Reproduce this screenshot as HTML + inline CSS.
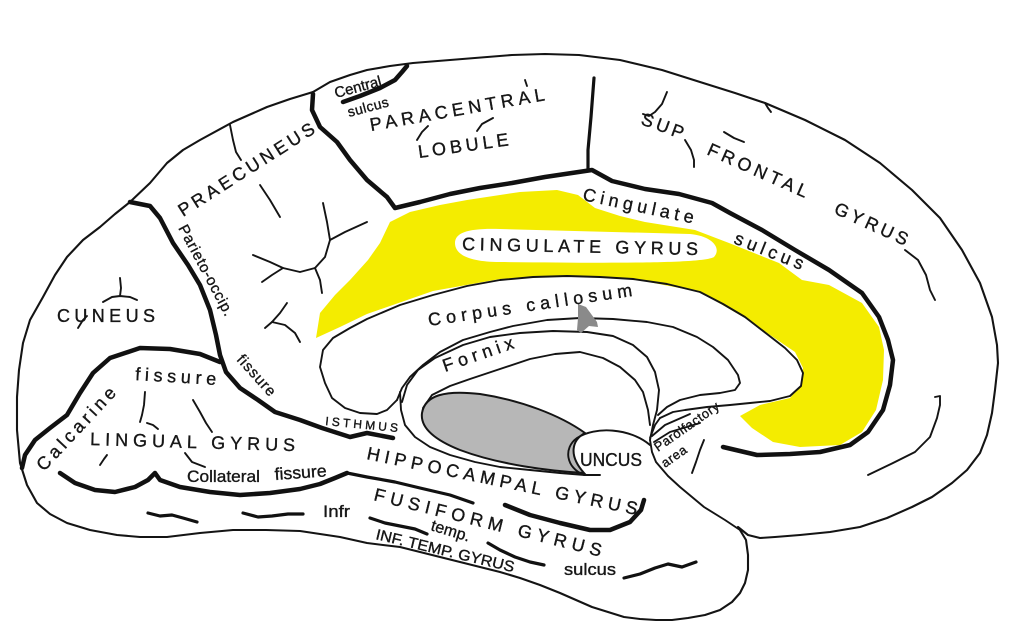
<!DOCTYPE html>
<html><head><meta charset="utf-8"><style>
html,body{margin:0;padding:0;background:#fff;}
svg{display:block;}
text{font-family:"Liberation Sans",Arial,sans-serif;fill:#161616;stroke:#161616;stroke-width:0.35;}
.o{fill:none;stroke:#141414;stroke-width:2.1;stroke-linecap:round;stroke-linejoin:round;}
.t{fill:none;stroke:#141414;stroke-width:1.9;stroke-linecap:round;stroke-linejoin:round;}
.k{fill:none;stroke:#111;stroke-width:4.5;stroke-linecap:round;stroke-linejoin:round;}
.m{fill:none;stroke:#111;stroke-width:3.2;stroke-linecap:round;stroke-linejoin:round;}
</style></head><body>
<svg width="1024" height="627" viewBox="0 0 1024 627" xmlns="http://www.w3.org/2000/svg">
<rect width="1024" height="627" fill="#fff"/>

<!-- Yellow cingulate gyrus -->
<path fill="#f4ec00" d="M316,338 L320,313 L335,295 L350,280 L368,260 L380,243 L390,222 L410,212 L440,205 L467,200 L520,192 L557,190 L578,195 L595,208 L620,216 L645,222 L695,230 L729,243 L779,263 L802,280 L829,285 L862,303 L879,327 L884,350 L883,380 L876,410 L862,432 L840,445 L800,447 L773,442 L752,428 L740,416 L760,405 L790,398 L801,385 L803,368 L795,352 L770,335 L745,318 L700,292 L633,279 L567,276 L500,279 L433,291 L367,314 L340,327 Z"/>
<path fill="#fff" d="M455,243 C455,232 470,228 500,229 L690,234 C712,236 722,248 714,257 C703,264 600,263 500,262 C470,262 455,255 455,243 Z"/>

<!-- Outer outline -->
<path class="o" d="M313,92 L330,82 L350,75 L367,70 L390,66 L413,63 L450,60 L512,55 L545,54 L579,55 L620,60 L662,70 L700,82 L735,93 L765,103 L805,120 L845,140 L880,163 L912,190 L940,218 L962,250 L980,283 L992,317 L997,345 L998,363 L995,390 L992,413 L987,435 L980,453 L967,470 L952,483 L932,497 L912,507 L887,518 L860,527 L830,532 L800,535 L775,537 L760,538 L748,535 L738,527"/>
<path class="o" d="M740,530 L746,540 L748,555 L748,570 L745,583 L740,593 L732,602 L720,610 L705,615 L688,618 L672,620 L656,620 L640,619 L624,617 L608,612 L592,607 L576,600 L560,593 L540,585 L520,578 L500,572 L480,567 L460,562 L440,557 L420,552 L400,547 L383,545 L367,543 L340,537 L300,531 L266,530 L233,530 L200,533 L167,537 L140,537 L117,535 L90,530 L67,523 L50,514 L37,503 L27,485 L20,463 L17,430 L17,397 L19,370 L23,343 L30,320 L43,297 L55,275 L67,257 L83,240 L100,227 L115,214 L130,202 L150,183 L167,163 L183,150 L200,140 L233,122 L267,107 L290,99 L313,92"/>

<!-- Thick sulci -->
<path class="k" d="M343,102 L360,96 L380,88 L395,80 L402,72 L407,66"/>
<path class="k" d="M313,94 L312,110 L320,127 L337,142 L350,160 L367,180 L387,197 L395,208 L420,202 L450,194 L480,188 L512,183 L545,177 L592,170 L612,181 L645,189 L679,194 L712,203 L730,213 L762,230 L795,250 L829,270 L862,293 L879,317 L888,340 L893,360 L890,385 L883,410 L868,432 L850,445 L820,452 L790,454 L757,455 L723,447"/>
<path class="m" d="M594,78 L591,117 L588,150 L588,170"/>
<path class="k" d="M130,202 L150,206 L160,218 L173,243 L188,265 L200,285 L210,310 L216,335 L220,355 L226,372 L240,388 L258,400 L275,412 L300,420 L322,428 L350,437 L367,433 L393,438"/>
<path class="k" d="M220,362 L200,354 L170,349 L140,348 L110,358 L93,373 L80,393 L67,415 L50,428 L35,440 L25,455 L22,468"/>
<path class="k" d="M60,473 L75,483 L95,490 L115,492 L135,487 L148,480 L155,473 L160,480 L180,487 L210,492 L240,495 L270,493 L300,489 L320,484 L335,478 L347,473"/>
<path class="m" d="M347,473 L367,477 L395,482 L420,488 L450,495 L473,503"/>
<path class="k" d="M505,505 L530,515 L560,523 L590,530 L610,530 L630,522 L641,510 L644,500"/>

<!-- Wavy sulci -->
<path class="m" d="M148,513 L160,516 L172,515 L183,518 L197,522"/>
<path class="m" d="M243,513 L258,517 L272,516 L288,514 L303,514"/>
<path class="m" d="M370,518 L385,523 L400,526 L415,529 L427,534"/>
<path class="m" d="M488,543 L500,550 L515,557 L530,562 L544,565"/>
<path class="m" d="M624,578 L640,574 L655,568 L668,564 L682,567 L696,562"/>

<!-- Corpus callosum / fornix -->
<path class="t" d="M397,400 L387,410 L377,414 L360,413 L345,408 L332,398 L325,383 L320,367 L323,350 L333,338 L350,328 L367,319 L400,305 L433,295 L467,286 L500,280 L533,277 L567,276 L600,277 L633,279 L667,284 L700,292 L723,304 L745,317 L767,334 L785,348 L797,360 L803,373 L801,386 L790,396 L770,401 L750,403 L730,405 L707,407 L685,410 L673,412 L660,418"/>
<path class="t" d="M397,400 L402,388 L410,377 L423,365 L440,352 L463,340 L490,332 L513,326 L547,320 L580,318 L613,319 L647,322 L673,327 L697,337 L713,347 L728,360 L738,375 L740,383 L735,390 L720,393 L700,395 L680,400 L667,407 L658,415"/>
<path class="t" d="M402,402 L407,385 L418,370 L435,358 L463,345 L490,337 L520,333 L553,331 L587,332 L613,336 L633,345 L647,357 L655,372 L659,390 L657,410 L653,425 L650,440"/>
<path class="t" d="M423,408 L432,395 L450,386 L470,379 L500,369 L530,359 L555,354 L580,352 L603,358 L620,367 L635,380 L643,392 L648,410 L650,425"/>
<path class="t" d="M400,392 L401,410 L405,425 L415,437 L430,447 L450,455 L475,462 L500,467 L530,470 L560,473 L585,475 L600,475"/>

<!-- Gray oval -->
<path d="M422,413 C425,395 445,390 480,394 C520,400 560,415 585,433 C572,440 568,455 584,473 C550,471 500,465 460,450 C435,440 420,428 422,413 Z" fill="#b7b7b7" stroke="#141414" stroke-width="2"/>
<!-- Uncus -->
<path class="t" d="M584,475 C566,468 563,448 577,438 C595,426 630,428 650,445"/>

<!-- Parolfactory -->
<path class="t" d="M650,440 L652,452 L656,462 L668,476 L680,487 L704,507 L725,520 L740,530"/>
<path class="t" d="M650,438 L655,425 L660,418"/>
<path class="t" d="M652,436 L665,425 L690,414"/>
<path class="t" d="M654,442 L670,432 L700,423"/>
<path class="t" d="M692,473 L696,462 L700,450 L704,440"/>

<!-- small sulcal marks -->
<path class="t" d="M230,125 L233,140 L236,152 L241,160"/>
<path class="t" d="M260,185 L270,200 L280,217"/>
<path class="t" d="M323,203 L327,222 L330,240 L325,257 L315,268"/>
<path class="t" d="M330,240 L345,232 L367,222"/>
<path class="t" d="M315,268 L300,272 L283,268 L270,262 L253,255"/>
<path class="t" d="M315,268 L320,280 L322,293"/>
<path class="t" d="M283,268 L272,275 L262,282"/>
<path class="t" d="M287,303 L280,313 L272,322 L265,328"/>
<path class="t" d="M272,322 L285,325 L295,333 L300,342"/>
<path class="t" d="M120,278 L121,288 L120,296"/>
<path class="t" d="M103,302 L112,297 L120,296 L130,297 L137,300"/>
<path class="t" d="M78,328 L83,320 L87,316"/>
<path class="t" d="M417,140 L422,132 L428,126"/>
<path class="t" d="M477,131 L482,124 L493,118"/>
<path class="t" d="M525,80 L527,86"/>
<path class="t" d="M667,92 L662,104 L655,112 L649,116 L643,114"/>
<path class="t" d="M685,140 L691,150 L694,160 L694,167"/>
<path class="t" d="M724,132 L734,138 L744,142"/>
<path class="t" d="M765,103 L768,108 L771,112"/>
<path class="t" d="M905,250 L918,260 L926,275 L930,290 L935,300"/>
<path class="t" d="M935,397 L940,396 L940,405 L937,418 L930,437 L915,452 L893,463 L868,475"/>
<path class="t" d="M145,392 L144,405 L142,415 L140,422"/>
<path class="t" d="M147,423 L153,425 L158,429"/>
<path class="t" d="M193,400 L200,412 L206,423 L212,432"/>
<path class="t" d="M185,453 L192,462 L205,467"/>
<path class="t" d="M100,465 L104,459 L107,455"/>

<!-- gray cursor artifact -->
<polygon points="578,304 586,307 597,322 598,327 589,326 581,333 577,330 578,318" fill="#8a8a8a"/>

<!-- Labels -->
<text transform="translate(336,98) rotate(-15)" font-size="15" textLength="48">Central</text>
<text transform="translate(349,117) rotate(-15)" font-size="14" textLength="42">sulcus</text>
<text transform="translate(371,131) rotate(-10)" font-size="18" textLength="177">PARACENTRAL</text>
<text transform="translate(419,158) rotate(-8)" font-size="18" textLength="91">LOBULE</text>
<text transform="translate(183,217) rotate(-32.5)" font-size="18" textLength="158">PRAECUNEUS</text>
<text transform="translate(178,228) rotate(62)" font-size="15" textLength="101">Parieto-occip.</text>
<text transform="translate(57,322)" font-size="18" textLength="98">CUNEUS</text>
<text transform="translate(135,380) rotate(3.5)" font-size="18" textLength="81">fissure</text>
<text transform="translate(236,360) rotate(48)" font-size="15" textLength="50">fissure</text>
<text transform="translate(44,472) rotate(-47)" font-size="18" textLength="107">Calcarine</text>
<text transform="translate(90,445) rotate(1.7)" font-size="18" textLength="205">LINGUAL GYRUS</text>
<text transform="translate(187,482)" font-size="17" textLength="73" lengthAdjust="spacingAndGlyphs">Collateral</text>
<text transform="translate(275,480) rotate(-4)" font-size="17" textLength="52" lengthAdjust="spacingAndGlyphs">fissure</text>
<text transform="translate(325,425) rotate(5.5)" font-size="12" textLength="73">ISTHMUS</text>
<text transform="translate(366,459) rotate(11.7)" font-size="18" textLength="276">HIPPOCAMPAL GYRUS</text>
<text transform="translate(373,500) rotate(14)" font-size="18" textLength="234">FUSIFORM GYRUS</text>
<text transform="translate(323,517)" font-size="17" textLength="27" lengthAdjust="spacingAndGlyphs">Infr</text>
<text transform="translate(430,530) rotate(17)" font-size="16" textLength="40" lengthAdjust="spacingAndGlyphs">temp.</text>
<text transform="translate(375,539) rotate(13.5)" font-size="15" textLength="142" lengthAdjust="spacingAndGlyphs">INF. TEMP. GYRUS</text>
<text transform="translate(564,575)" font-size="17" textLength="52" lengthAdjust="spacingAndGlyphs">sulcus</text>
<text transform="translate(580,466)" font-size="18" textLength="62" lengthAdjust="spacingAndGlyphs">UNCUS</text>
<text transform="translate(658,452) rotate(-35)" font-size="13" textLength="76">Parolfactory</text>
<text transform="translate(665,468) rotate(-35)" font-size="13" textLength="28">area</text>
<text transform="translate(429,326) rotate(-8.4)" font-size="18" textLength="206">Corpus callosum</text>
<text transform="translate(445,372) rotate(-19)" font-size="18" textLength="74">Fornix</text>
<text transform="translate(462,250) rotate(1.2)" font-size="18" textLength="236">CINGULATE GYRUS</text>
<text transform="translate(582,200) rotate(12)" font-size="18" textLength="113">Cingulate</text>
<text transform="translate(733,243) rotate(21.7)" font-size="18" textLength="73">sulcus</text>
<text transform="translate(640,124) rotate(20)" font-size="18" textLength="44">SUP</text>
<text transform="translate(706,154) rotate(24)" font-size="18" textLength="108">FRONTAL</text>
<text transform="translate(833,213) rotate(24.6)" font-size="18" textLength="79">GYRUS</text>
</svg>
</body></html>
